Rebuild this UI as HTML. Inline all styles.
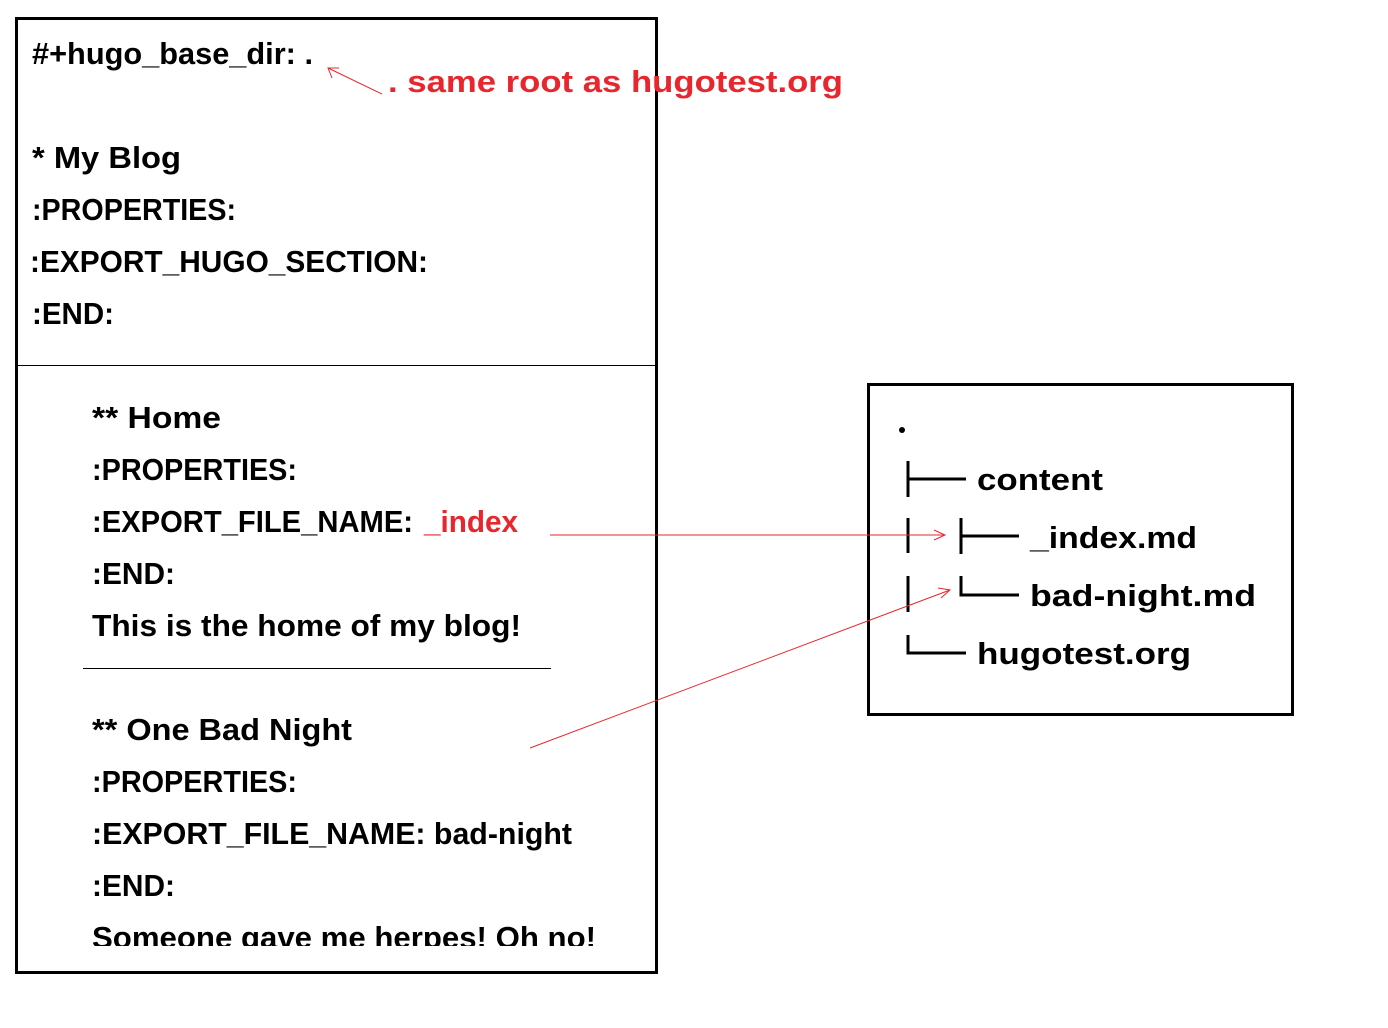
<!DOCTYPE html>
<html><head><meta charset="utf-8"><style>html,body{margin:0;padding:0;background:#fff}svg{display:block}</style></head>
<body>
<svg width="1388" height="1028" viewBox="0 0 1388 1028" xmlns="http://www.w3.org/2000/svg" font-family="Liberation Sans, sans-serif" font-weight="bold" font-size="31">
<defs><clipPath id="c"><rect x="0" y="0" width="1388" height="946"/></clipPath></defs>
<rect x="16.5" y="18.5" width="640" height="954" fill="none" stroke="#000" stroke-width="3"/>
<line x1="18" y1="365.5" x2="656" y2="365.5" stroke="#000" stroke-width="1"/>
<line x1="83" y1="668.5" x2="551" y2="668.5" stroke="#000" stroke-width="1"/>
<rect x="868.5" y="384.5" width="424" height="330" fill="none" stroke="#000" stroke-width="3"/>
<g fill="#000">
<text x="32" y="64" textLength="281" lengthAdjust="spacingAndGlyphs">#+hugo_base_dir: .</text>
<text x="32" y="168" textLength="149" lengthAdjust="spacingAndGlyphs">* My Blog</text>
<text x="32" y="220" textLength="204" lengthAdjust="spacingAndGlyphs">:PROPERTIES:</text>
<text x="30" y="272" textLength="398" lengthAdjust="spacingAndGlyphs">:EXPORT_HUGO_SECTION:</text>
<text x="32" y="324" textLength="82" lengthAdjust="spacingAndGlyphs">:END:</text>
<text x="92" y="428" textLength="129" lengthAdjust="spacingAndGlyphs">** Home</text>
<text x="92" y="480" textLength="205" lengthAdjust="spacingAndGlyphs">:PROPERTIES:</text>
<text x="92" y="532" textLength="321" lengthAdjust="spacingAndGlyphs">:EXPORT_FILE_NAME:</text>
<text x="424" y="532" textLength="94" lengthAdjust="spacingAndGlyphs" fill="#e8262e">_index</text>
<text x="92" y="584" textLength="83" lengthAdjust="spacingAndGlyphs">:END:</text>
<text x="92" y="636" textLength="429" lengthAdjust="spacingAndGlyphs">This is the home of my blog!</text>
<text x="92" y="740" textLength="260" lengthAdjust="spacingAndGlyphs">** One Bad Night</text>
<text x="92" y="792" textLength="205" lengthAdjust="spacingAndGlyphs">:PROPERTIES:</text>
<text x="92" y="844" textLength="480" lengthAdjust="spacingAndGlyphs">:EXPORT_FILE_NAME: bad-night</text>
<text x="92" y="896" textLength="83" lengthAdjust="spacingAndGlyphs">:END:</text>
<text x="92" y="948" textLength="504" lengthAdjust="spacingAndGlyphs" clip-path="url(#c)">Someone gave me herpes! Oh no!</text>
<text x="388" y="92" textLength="455" lengthAdjust="spacingAndGlyphs" fill="#e8262e">. same root as hugotest.org</text>
<circle cx="902" cy="430" r="3"/>
<text x="977" y="490" textLength="126" lengthAdjust="spacingAndGlyphs">content</text>
<text x="1030" y="548" textLength="167" lengthAdjust="spacingAndGlyphs">_index.md</text>
<text x="1030" y="606" textLength="226" lengthAdjust="spacingAndGlyphs">bad-night.md</text>
<text x="977" y="664" textLength="214" lengthAdjust="spacingAndGlyphs">hugotest.org</text>
</g>
<g stroke="#000" stroke-width="3" fill="none">
<path d="M908 461V497M908 479H966"/>
<path d="M908 518V553"/>
<path d="M961 518V554M961 536H1019"/>
<path d="M908 576V612"/>
<path d="M961 576V595H1019"/>
<path d="M908 635V653H966"/>
</g>
<g stroke="#e8262e" stroke-width="1" fill="none">
<path d="M550 535H945M934 530L945 535L934 540"/>
<path d="M530 748L950 590M938 588L950 590L941 598"/>
<path d="M382 94L328 68M332 78L328 68L339 68"/>
</g>
</svg>
</body></html>
